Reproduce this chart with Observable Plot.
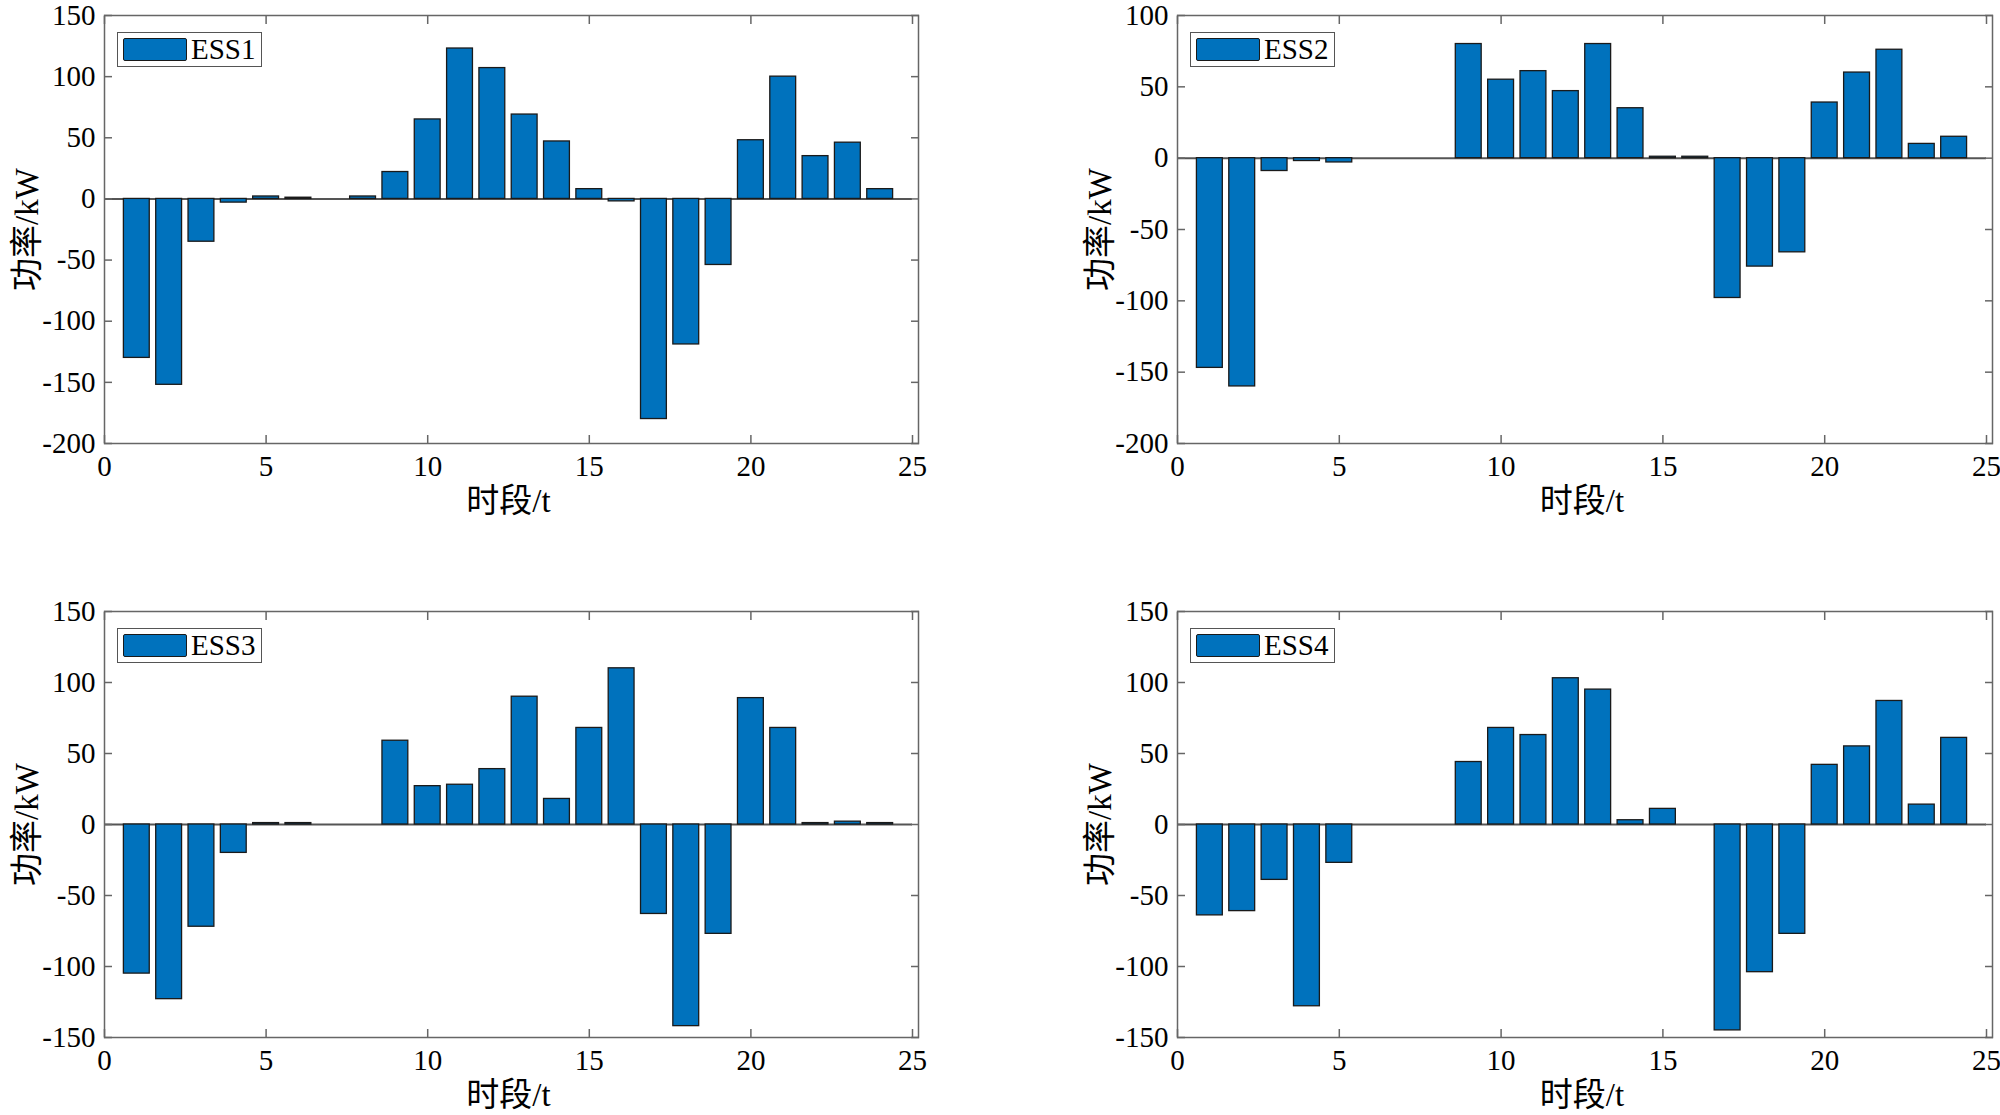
<!DOCTYPE html>
<html>
<head>
<meta charset="utf-8">
<script src="https://cdn.jsdelivr.net/npm/d3@7"></script>
<script src="https://cdn.jsdelivr.net/npm/@observablehq/plot@0.6"></script>
<style>
  html, body { margin: 0; padding: 0; background: #fff; }
  #root { position: relative; width: 2000px; height: 1115px; overflow: hidden; }
  .panel { position: absolute; }
  .panel text, .panel g { font-family: 'Liberation Serif', 'Noto Sans CJK SC', serif !important; font-variant: normal !important; font-variant-numeric: normal !important; }
  .legend {
    position: absolute; border: 1.5px solid #555; background: #fff;
    display: flex; align-items: center; padding: 4px 6px 4px 5px; box-sizing: border-box;
    font-family: 'Liberation Serif', 'Noto Sans CJK SC', serif; font-size: 29px; color: #000;
  }
  .legend .sw { width: 64px; height: 23px; background: #0072BD; border: 1.5px solid #1a1a1a; border-radius: 2px; margin-right: 4px; box-sizing: border-box; }
</style>
</head>
<body>
<div id="root"></div>
<script>
// ---- data ----
const periods = [1,2,3,4,5,6,7,8,9,10,11,12,13,14,15,16,17,18,19,20,21,22,23,24];
const ess1 = [-130,-152,-35,-3,2,1,0,2,22,65,123,107,69,47,8,-2,-180,-119,-54,48,100,35,46,8];
const ess2 = [-147,-160,-9,-2,-3,0,0,0,80,55,61,47,80,35,1,1,-98,-76,-66,39,60,76,10,15];
const ess3 = [-105,-123,-72,-20,1,1,0,0,59,27,28,39,90,18,68,110,-63,-142,-77,89,68,1,2,1];
const ess4 = [-64,-61,-39,-128,-27,0,0,0,44,68,63,103,95,3,11,0,-145,-104,-77,42,55,87,14,61];
const seriesNames = ["ESS1","ESS2","ESS3","ESS4"];
const xTicks = [0,5,10,15,20,25];
const yTicks12 = [-200,-150,-100,-50,0,50,100,150];
const yTicks2 = [-200,-150,-100,-50,0,50,100];
const yTicks34 = [-150,-100,-50,0,50,100,150];
const xLabel = "时段/t";
const yLabel = "功率/kW";

const panels = [
  {name: seriesNames[0], values: ess1, yDomain: [-200,150], yTicks: yTicks12, left: 0, top: 0, height: 540, mL: 104, mR: 88, mT: 15, mB: 97},
  {name: seriesNames[1], values: ess2, yDomain: [-200,100], yTicks: yTicks2, left: 1000, top: 0, height: 540, mL: 177, mR: 14, mT: 15, mB: 97},
  {name: seriesNames[2], values: ess3, yDomain: [-150,150], yTicks: yTicks34, left: 0, top: 580, height: 535, mL: 104, mR: 88, mT: 31, mB: 78},
  {name: seriesNames[3], values: ess4, yDomain: [-150,150], yTicks: yTicks34, left: 1000, top: 580, height: 535, mL: 177, mR: 14, mT: 31, mB: 78}
];

const root = document.getElementById("root");
const font = "'Liberation Serif', 'Noto Sans CJK SC', serif";
const fmt = d => String(d);

for (const p of panels) {
  const data = periods.map((t, i) => ({t, v: p.values[i]}));
  const chart = Plot.plot({
    width: 1000,
    height: p.height,
    marginLeft: p.mL, marginRight: p.mR, marginTop: p.mT, marginBottom: p.mB,
    style: {fontFamily: font, fontSize: "28px", background: "transparent", color: "#000", overflow: "visible"},
    x: {domain: [0, 25]},
    y: {domain: p.yDomain},
    marks: [
      Plot.ruleY([0], {stroke: "#555", strokeWidth: 2}),
      Plot.rectY(data, {x1: d => d.t - 0.4, x2: d => d.t + 0.4, y1: 0, y2: "v", fill: "#0072BD", stroke: "#1a1a1a", strokeWidth: 1.3}),
      Plot.frame({stroke: "#666", strokeWidth: 1.5, insetRight: -6}),
      Plot.axisX(xTicks, {anchor: "bottom", tickSize: -8, tickPadding: 20, tickFormat: fmt, stroke: "#666", strokeWidth: 1.5, fontSize: 29, fontFamily: font, fontVariant: "normal",
        label: xLabel, labelAnchor: "center", labelOffset: 68, labelArrow: "none"}),
      Plot.axisX(xTicks, {anchor: "top", tickSize: -8, tickFormat: () => "", stroke: "#666", strokeWidth: 1.5, label: null}),
      Plot.axisY(p.yTicks, {anchor: "left", tickSize: -8, tickPadding: 17, tickFormat: fmt, stroke: "#666", strokeWidth: 1.5, fontSize: 29, fontFamily: font, fontVariant: "normal",
        label: yLabel, labelAnchor: "center", labelOffset: 90, labelArrow: "none"}),
      Plot.axisY(p.yTicks, {anchor: "right", tickSize: -8, tickFormat: () => "", stroke: "#666", strokeWidth: 1.5, label: null, dx: 6})
    ]
  });
  chart.classList.add("panel");
  chart.style.left = p.left + "px";
  chart.style.top = p.top + "px";
  chart.querySelectorAll("g[aria-label$='axis label'] text, text[aria-label$='axis label']").forEach(t => {
    t.style.fontSize = "33px";
  });
  root.appendChild(chart);

  const lg = document.createElement("div");
  lg.className = "legend";
  lg.style.left = (p.left + p.mL + 13) + "px";
  lg.style.top = (p.top + p.mT + 17) + "px";
  lg.style.height = "35px";
  const sw = document.createElement("div");
  sw.className = "sw";
  const tx = document.createElement("span");
  tx.textContent = p.name;
  lg.appendChild(sw);
  lg.appendChild(tx);
  root.appendChild(lg);
}
</script>
</body>
</html>
